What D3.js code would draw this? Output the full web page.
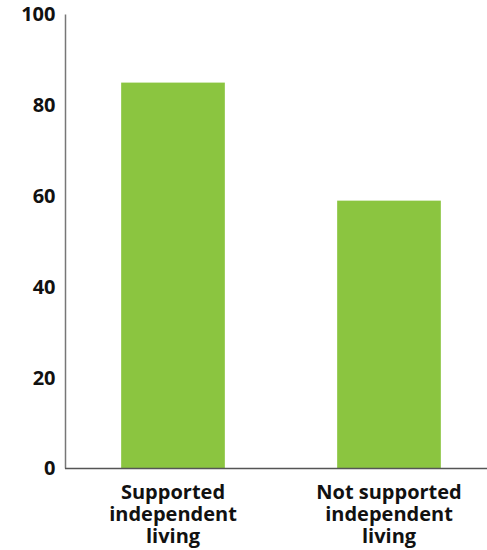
<!DOCTYPE html>
<html><head><meta charset="utf-8">
<script src="https://cdn.jsdelivr.net/npm/d3@7"></script>
<style>body{margin:0;background:#fff}svg{display:block}text{font-family:"Open Sans",sans-serif;font-weight:700;fill:#111}</style>
</head><body>
<script>
const categories = [["Supported","independent","living"],["Not supported","independent","living"]];
const values = [85, 59];
const yTicks = [0, 20, 40, 60, 80, 100];

const W = 487, H = 550;
const svg = d3.select("body").append("svg").attr("width", W).attr("height", H);
const x = d3.scaleBand().domain(d3.range(categories.length)).range([65, 497]).paddingInner(0.52).paddingOuter(0.26);
const y = d3.scaleLinear().domain([0, 100]).range([468.5, 14.5]);

svg.selectAll("rect.bar").data(values).join("rect").attr("class","bar")
  .attr("x", (d,i) => x(i)).attr("width", x.bandwidth())
  .attr("y", d => y(d)).attr("height", d => y(0) - y(d))
  .attr("fill", "#8bc540");

// y axis
const ya = svg.append("g").attr("transform", "translate(65.5,0)")
  .call(d3.axisLeft(y).tickValues(yTicks).tickSize(0).tickPadding(10));
ya.select(".domain").attr("stroke", "#777").attr("stroke-width", 1.5).attr("d", `M0,${y(100)}V${y(0)}`);
ya.selectAll("text").style("font-size", "20px").style("font-family", '"Open Sans",sans-serif').style("font-weight", 700).attr("fill", "#111");

// x axis
const xa = svg.append("g").attr("transform", `translate(0,${y(0)})`)
  .call(d3.axisBottom(x).tickSize(0).tickFormat(""));
xa.select(".domain").attr("stroke", "#555").attr("stroke-width", 1.5).attr("d", `M65,0H${W}`);
xa.selectAll(".tick").each(function(d){
  const t = d3.select(this).append("text").attr("text-anchor","middle")
    .style("font-size","20px").attr("fill","#111");
  categories[d].forEach((line, k) => t.append("tspan").attr("x", 0).attr("y", 30 + k*22).text(line));
});
</script>
</body></html>
